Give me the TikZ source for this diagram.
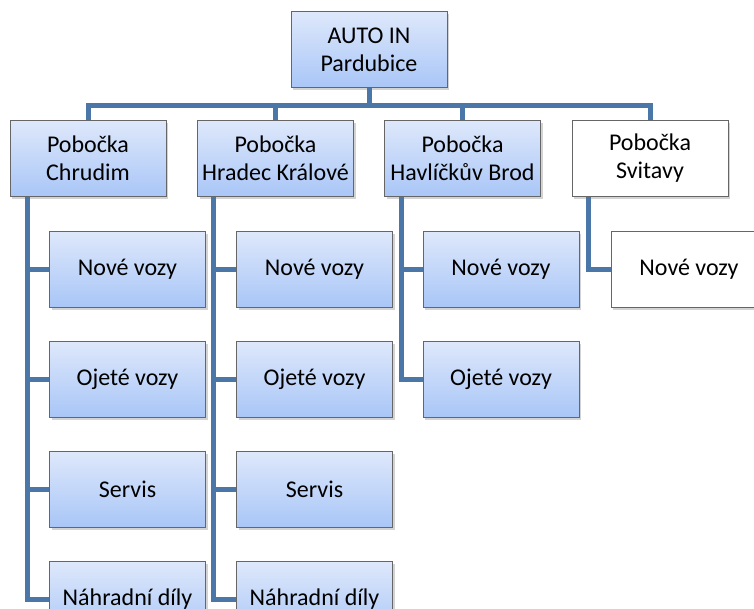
\documentclass[tikz,border=0pt]{standalone}
\usepackage{fontspec}
\setmainfont{Carlito}
\usetikzlibrary{positioning,shadows}

\definecolor{linkblue}{HTML}{4A76A8}
\definecolor{boxtop}{HTML}{DEE8FB}
\definecolor{boxbot}{HTML}{A9C6F7}

\begin{document}
\begin{tikzpicture}[x=1pt,y=1pt,
	bluebox/.style={rectangle,draw=gray!80!black,line width=0.6pt,top color=boxtop,bottom color=boxbot,minimum width=156pt,minimum height=76pt,inner sep=0pt,align=center,font=\fontsize{24}{28}\selectfont,drop shadow={shadow xshift=2pt,shadow yshift=-2.5pt,opacity=0.35}},
	whitebox/.style={bluebox,top color=white,bottom color=white},
	link/.style={draw=linkblue,line width=5pt,line join=miter}]
		\useasboundingbox (0,0) rectangle (754,-608);
		\coordinate (bar) at (369,-105);
		% boxes
		\node [bluebox] (top) at (369,-49.5) {AUTO IN\\Pardubice};
		\node [bluebox] (chr) at (88,-158.5) {Pobočka\\Chrudim};
		\node [bluebox] (hk) at (275.5,-158.5) {Pobočka\\Hradec Králové};
		\node [bluebox] (hb) at (462.5,-158.5) {Pobočka\\Havlíčkův Brod};
		\node [whitebox] (svi) at (650,-158.5) {Pobočka\\Svitavy};
		\node [bluebox] (chr1) at (127.5,-269) {Nové vozy};
		\node [bluebox] (chr2) at (127.5,-379) {Ojeté vozy};
		\node [bluebox] (chr3) at (127.5,-489) {Servis};
		\node [bluebox] (chr4) at (127.5,-599) {Náhradní díly};
		\node [bluebox] (hk1) at (314.5,-269) {Nové vozy};
		\node [bluebox] (hk2) at (314.5,-379) {Ojeté vozy};
		\node [bluebox] (hk3) at (314.5,-489) {Servis};
		\node [bluebox] (hk4) at (314.5,-599) {Náhradní díly};
		\node [bluebox] (hb1) at (501,-269) {Nové vozy};
		\node [bluebox] (hb2) at (501,-379) {Ojeté vozy};
		\node [whitebox] (svi1) at (689,-269) {Nové vozy};
		% trunks
		\coordinate (chrT) at ([xshift=-61pt]chr.south);
		\coordinate (hkT) at ([xshift=-62.5pt]hk.south);
		\coordinate (hbT) at ([xshift=-61.5pt]hb.south);
		\coordinate (sviT) at ([xshift=-62pt]svi.south);
		\draw[link] (top.south) -- (bar);
		\draw[link] (bar) -| (chr.north);
		\draw[link] (bar) -| (hk.north);
		\draw[link] (bar) -| (hb.north);
		\draw[link] (bar) -| (svi.north);
		\foreach \c in {chr1,chr2,chr3,chr4}
			\draw[link] (chrT) |- (\c.west);
		\foreach \c in {hk1,hk2,hk3,hk4}
			\draw[link] (hkT) |- (\c.west);
		\foreach \c in {hb1,hb2}
			\draw[link] (hbT) |- (\c.west);
		\draw[link] (sviT) |- (svi1.west);
	\end{tikzpicture}
\end{document}
